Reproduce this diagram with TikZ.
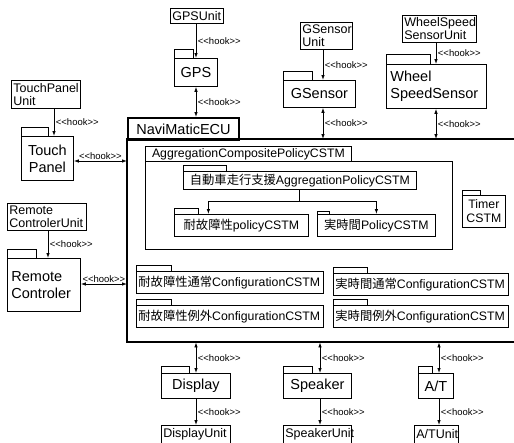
\documentclass[tikz,border=0pt]{standalone}
\usepackage{fontspec}
\setmainfont{Liberation Sans}
\newfontfamily\cjk{Noto Sans CJK JP}
\usetikzlibrary{arrows.meta}
\newcommand\pkgfont{\fontsize{14.5}{17}\selectfont}
\newcommand\unitfont{\fontsize{12.5}{13}\selectfont}
\newcommand\cstmfont{\fontsize{12.3}{14}\selectfont}
\newcommand\hookfont{\fontsize{9.5}{11}\selectfont}
\newcommand\hooktext{\mbox{<}\mbox{<}hook\mbox{>}\mbox{>}}

\begin{document}
\begin{tikzpicture}[
    x=1pt, y=-1pt,
    >={Latex[length=5pt,width=3.5pt]},
    box/.style={draw, line width=0.8pt, anchor=north west, inner xsep=2pt, inner ysep=0pt},
    unitbox/.style={box, align=left, font=\unitfont},
    pkgbox/.style={box, align=center, font=\pkgfont},
    cstmbox/.style={box, align=center, font=\cstmfont},
    tabline/.style={line width=0.8pt},
    eculine/.style={line width=2pt},
    hookline/.style={line width=0.8pt},
    hooklabel/.style={font=\hookfont, inner sep=1.5pt}
]

\useasboundingbox (0,0) rectangle (514,442);

% Units (hardware side)
\node[unitbox, text width=49pt, minimum height=15pt] (gpsunit) at (170,8) {GPSUnit};
\node[unitbox, text width=48pt, minimum height=27pt] (gsensorunit) at (300,22) {GSensor\\Unit};
\node[unitbox, text width=70pt, minimum height=27pt] (wheelunit) at (402,15) {WheelSpeed\\SensorUnit};
\node[unitbox, text width=65pt, minimum height=28pt] (touchunit) at (11,80) {TouchPanel\\Unit};
\node[unitbox, text width=75pt, minimum height=27pt] (remoteunit) at (7,203) {Remote\\ControlerUnit};
\node[unitbox, text width=65pt, minimum height=18pt] (displayunit) at (161,425) {DisplayUnit};
\node[unitbox, text width=64pt, minimum height=18pt] (speakerunit) at (283,425) {SpeakerUnit};
\node[unitbox, text width=40pt, minimum height=18pt] (atunit) at (414,425) {A/TUnit};

% Packages (driver side)
\node[pkgbox, text width=39pt, minimum height=28pt] (gps) at (174,58) {GPS};
\draw[tabline] (gps.north west) rectangle ++(19,-9);
\node[pkgbox, text width=68pt, minimum height=27pt] (gsensor) at (283,80) {GSensor};
\draw[tabline] (gsensor.north west) rectangle ++(29,-9);
\node[pkgbox, align=left, inner xsep=4pt, text width=92pt, minimum height=44pt] (wheel) at (386,64) {Wheel\\SpeedSensor};
\draw[tabline] (wheel.north west) rectangle ++(44,-10);
\node[pkgbox, text width=48pt, minimum height=44pt] (touch) at (21,136) {Touch\\Panel};
\draw[tabline] (touch.north west) rectangle ++(27,-9);
\node[pkgbox, align=left, inner xsep=4pt, text width=65pt, minimum height=53pt] (remote) at (7,258) {Remote\\Controler};
\draw[tabline] (remote.north west) rectangle ++(29,-9);
\node[pkgbox, text width=65pt, minimum height=25pt] (display) at (161,373) {Display};
\draw[tabline] (display.north west) rectangle ++(28,-7);
\node[pkgbox, text width=64pt, minimum height=25pt] (speaker) at (283,373) {Speaker};
\draw[tabline] (speaker.north west) rectangle ++(29,-7);
\node[pkgbox, text width=31pt, minimum height=25pt] (atpkg) at (418,373) {A/T};
\draw[tabline] (atpkg.north west) rectangle ++(14,-7);

% NaviMaticECU package, open at the right edge
\node[pkgbox, line width=2pt, text width=107pt, minimum height=22pt] (ecutitle) at (127,117) {NaviMaticECU};
\node[anchor=north west, minimum width=387pt, minimum height=203pt, inner sep=0pt] (ecu) at (127,139) {};
\draw[eculine] (ecu.north east) -- (ecu.north west) -- (ecu.south west) -- (ecu.south east);

% Aggregation composite policy
\node[cstmbox, text width=202pt, minimum height=15pt] (aggtitle) at (145,146) {AggregationCompositePolicyCSTM};
\node[box, minimum width=307pt, minimum height=88pt] (agg) at (145,161) {};
\node[cstmbox, text width=229pt, minimum height=18pt] (jidou) at (183,171) {{\cjk 自動車走行支援}AggregationPolicyCSTM};
\draw[tabline] (jidou.north west) rectangle ++(43,-6);
\node[cstmbox, text width=130pt, minimum height=22pt] (taiko) at (174,214) {{\cjk 耐故障性}policyCSTM};
\draw[tabline] (taiko.north west) rectangle ++(24,-6);
\node[cstmbox, text width=114pt, minimum height=22pt] (jijikan) at (317,214) {{\cjk 実時間}PolicyCSTM};
\draw[tabline] (jijikan.north west) rectangle ++(12,-3);

% Policy tree
\coordinate (split) at (299,201);
\draw[hookline, ->] (split |- jidou.south) -- (split) -| ([xshift=-33pt]taiko.north);
\draw[hookline, ->] (split) -| (jijikan.north);

% Timer
\node[cstmbox, text width=39pt, minimum height=32pt] (timer) at (462,195) {Timer\\CSTM};
\draw[tabline] (timer.north west) rectangle ++(18,-5);

% Configurations
\node[cstmbox, align=left, text width=183pt, minimum height=22pt] (tf1) at (136,271) {{\cjk 耐故障性通常}ConfigurationCSTM};
\draw[tabline] (tf1.north west) rectangle ++(35,-6);
\node[cstmbox, align=left, text width=183pt, minimum height=22pt] (tf2) at (136,305) {{\cjk 耐故障性例外}ConfigurationCSTM};
\draw[tabline] (tf2.north west) rectangle ++(35,-6);
\node[cstmbox, align=left, text width=171pt, minimum height=22pt] (rt1) at (333,273) {{\cjk 実時間通常}ConfigurationCSTM};
\draw[tabline] (rt1.north west) rectangle ++(34,-6);
\node[cstmbox, align=left, text width=171pt, minimum height=22pt] (rt2) at (333,305) {{\cjk 実時間例外}ConfigurationCSTM};
\draw[tabline] (rt2.north west) rectangle ++(34,-6);

% Hook connectors
\coordinate (col-gps) at (196,0);
\coordinate (col-gsensor) at (323,0);
\coordinate (col-wheel) at (436,0);
\coordinate (col-touch) at (54,0);
\coordinate (col-remote) at (48,0);
\coordinate (col-speaker) at (320,0);
\coordinate (col-atpkg) at (439,0);
\coordinate (row-touch) at (0,161);
\coordinate (row-remote) at (0,284);

\draw[hookline, ->] (col-gps |- gpsunit.south) -- node[hooklabel, right] {\hooktext} (col-gps |- gps.north);
\draw[hookline, <->] (col-gps |- gps.south) -- node[hooklabel, right] {\hooktext} (col-gps |- ecutitle.north);
\draw[hookline, ->] (col-gsensor |- gsensorunit.south) -- node[hooklabel, right] {\hooktext} (col-gsensor |- gsensor.north);
\draw[hookline, <->] (col-gsensor |- gsensor.south) -- node[hooklabel, right] {\hooktext} (col-gsensor |- ecu.north);
\draw[hookline, ->] (col-wheel |- wheelunit.south) -- node[hooklabel, right] {\hooktext} (col-wheel |- wheel.north);
\draw[hookline, <->] (col-wheel |- wheel.south) -- node[hooklabel, right] {\hooktext} (col-wheel |- ecu.north);

\draw[hookline, ->] (col-touch |- touchunit.south) -- node[hooklabel, right] {\hooktext} (col-touch |- touch.north);
\draw[hookline, <->] (row-touch -| touch.east) -- node[hooklabel, above] {\hooktext} (row-touch -| ecu.west);
\draw[hookline, ->] (col-remote |- remoteunit.south) -- node[hooklabel, right] {\hooktext} (col-remote |- remote.north);
\draw[hookline, <->] (row-remote -| remote.east) -- node[hooklabel, above] {\hooktext} (row-remote -| ecu.west);

\draw[hookline, <->] (col-gps |- ecu.south) -- node[hooklabel, right] {\hooktext} (col-gps |- display.north);
\draw[hookline, ->] (col-gps |- display.south) -- node[hooklabel, right] {\hooktext} (col-gps |- displayunit.north);
\draw[hookline, <->] (col-speaker |- ecu.south) -- node[hooklabel, right] {\hooktext} (col-speaker |- speaker.north);
\draw[hookline, ->] (col-speaker |- speaker.south) -- node[hooklabel, right] {\hooktext} (col-speaker |- speakerunit.north);
\draw[hookline, <->] (col-atpkg |- ecu.south) -- node[hooklabel, right] {\hooktext} (col-atpkg |- atpkg.north);
\draw[hookline, ->] (col-atpkg |- atpkg.south) -- node[hooklabel, right] {\hooktext} (col-atpkg |- atunit.north);

\end{tikzpicture}
\end{document}
